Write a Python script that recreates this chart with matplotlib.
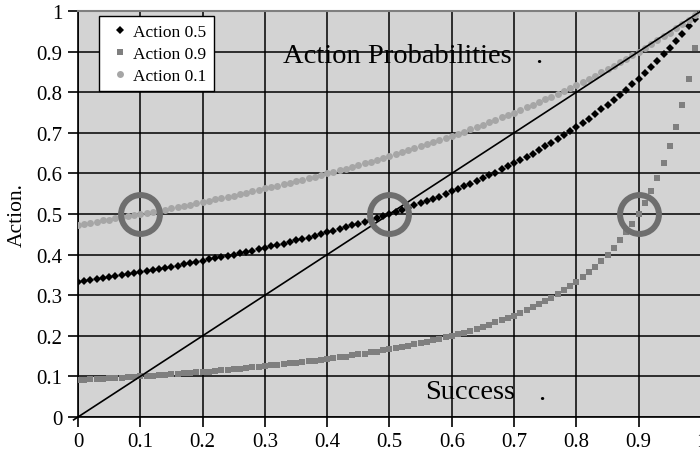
import numpy as np
import matplotlib
matplotlib.use("Agg")
import matplotlib.pyplot as plt

plt.rcParams["font.family"] = ["Liberation Serif", "DejaVu Serif"]

# success rate sampled every 0.01
success = np.linspace(0, 1, 101)

action_05 = [
    0.333, 0.336, 0.338, 0.340, 0.342, 0.345, 0.347, 0.350, 0.352, 0.355,
    0.357, 0.360, 0.362, 0.365, 0.368, 0.370, 0.373, 0.376, 0.379, 0.382,
    0.385, 0.388, 0.391, 0.394, 0.397, 0.400, 0.403, 0.407, 0.410, 0.413,
    0.417, 0.420, 0.424, 0.427, 0.431, 0.435, 0.439, 0.442, 0.446, 0.450,
    0.455, 0.459, 0.463, 0.467, 0.472, 0.476, 0.481, 0.485, 0.490, 0.495,
    0.500, 0.505, 0.510, 0.515, 0.521, 0.526, 0.532, 0.538, 0.543, 0.549,
    0.556, 0.562, 0.568, 0.575, 0.581, 0.588, 0.595, 0.602, 0.610, 0.617,
    0.625, 0.633, 0.641, 0.649, 0.658, 0.667, 0.676, 0.685, 0.694, 0.704,
    0.714, 0.725, 0.735, 0.746, 0.758, 0.769, 0.781, 0.794, 0.806, 0.820,
    0.833, 0.847, 0.862, 0.877, 0.893, 0.909, 0.926, 0.943, 0.962, 0.980,
    1.000,
]

action_09 = [
    0.091, 0.092, 0.093, 0.093, 0.094, 0.095, 0.096, 0.097, 0.098, 0.099,
    0.100, 0.101, 0.102, 0.103, 0.104, 0.105, 0.106, 0.108, 0.109, 0.110,
    0.111, 0.112, 0.114, 0.115, 0.116, 0.118, 0.119, 0.120, 0.122, 0.123,
    0.125, 0.127, 0.128, 0.130, 0.132, 0.133, 0.135, 0.137, 0.139, 0.141,
    0.143, 0.145, 0.147, 0.149, 0.152, 0.154, 0.156, 0.159, 0.161, 0.164,
    0.167, 0.169, 0.172, 0.175, 0.179, 0.182, 0.185, 0.189, 0.192, 0.196,
    0.200, 0.204, 0.208, 0.213, 0.217, 0.222, 0.227, 0.233, 0.238, 0.244,
    0.250, 0.256, 0.263, 0.270, 0.278, 0.286, 0.294, 0.303, 0.313, 0.323,
    0.333, 0.345, 0.357, 0.370, 0.385, 0.400, 0.417, 0.435, 0.455, 0.476,
    0.500, 0.526, 0.556, 0.588, 0.625, 0.667, 0.714, 0.769, 0.833, 0.909,
    1.000,
]

action_01 = [
    0.474, 0.476, 0.479, 0.481, 0.484, 0.486, 0.489, 0.492, 0.495, 0.497,
    0.500, 0.503, 0.506, 0.508, 0.511, 0.514, 0.517, 0.520, 0.523, 0.526,
    0.529, 0.533, 0.536, 0.539, 0.542, 0.545, 0.549, 0.552, 0.556, 0.559,
    0.563, 0.566, 0.570, 0.573, 0.577, 0.581, 0.584, 0.588, 0.592, 0.596,
    0.600, 0.604, 0.608, 0.612, 0.616, 0.621, 0.625, 0.629, 0.634, 0.638,
    0.643, 0.647, 0.652, 0.657, 0.662, 0.667, 0.672, 0.677, 0.682, 0.687,
    0.692, 0.698, 0.703, 0.709, 0.714, 0.720, 0.726, 0.732, 0.738, 0.744,
    0.750, 0.756, 0.763, 0.769, 0.776, 0.783, 0.789, 0.796, 0.804, 0.811,
    0.818, 0.826, 0.833, 0.841, 0.849, 0.857, 0.865, 0.874, 0.882, 0.891,
    0.900, 0.909, 0.918, 0.928, 0.938, 0.947, 0.957, 0.968, 0.978, 0.989,
    1.000,
]

# points where each curve crosses 0.5
marked_x = [0.1, 0.5, 0.9]
marked_y = [0.5, 0.5, 0.5]

ticks = np.round(np.arange(0, 1.01, 0.1), 1)
tick_labels = ["0", "0.1", "0.2", "0.3", "0.4", "0.5", "0.6", "0.7", "0.8", "0.9", "1"]

fig = plt.figure(figsize=(7, 4.52), dpi=100)
ax = fig.add_axes([78 / 700, 34 / 452, 623 / 700, 406 / 452])
ax.set_facecolor("#d3d3d3")

ax.plot(success, action_05, "D", color="black", ms=4.0, mew=0, label="Action 0.5", zorder=3)
ax.plot(success, action_09, "s", color="#7f7f7f", ms=4.6, mew=0, label="Action 0.9", zorder=3)
ax.plot(success, action_01, "o", color="#a6a6a6", ms=5.0, mew=0, label="Action 0.1", zorder=3)

# diagonal reference line, running slightly past the origin
ax.plot([-0.007, 1], [-0.007, 1], color="black", lw=1.2, zorder=4, clip_on=False)
ax.plot(marked_x, marked_y, "o", ms=28, mfc="none", mec="#6e6e6e", mew=4.3, zorder=5)

ax.set_xlim(0, 1)
ax.set_ylim(0, 1)
ax.set_xticks(ticks)
ax.set_yticks(ticks)
ax.set_xticklabels(tick_labels, fontsize=15)
ax.set_yticklabels(tick_labels, fontsize=15)
ax.tick_params(direction="out", length=7, width=1.2, color="black", pad=4)
ax.grid(True, color="black", lw=1.1, zorder=1)
ax.set_axisbelow(True)

ax.spines["right"].set_visible(False)
ax.spines["top"].set_color("#7f7f7f")
ax.spines["top"].set_linewidth(1.5)
ax.spines["left"].set_linewidth(1.2)
ax.spines["bottom"].set_linewidth(1.2)

ax.set_ylabel("Action.", fontsize=15.5, labelpad=7)

ax.text(0.513, 0.874, "Action Probabilities", fontsize=20.5, ha="center", va="baseline", zorder=6)
ax.text(0.740, 0.874, ".", fontsize=20.5, ha="center", va="baseline", zorder=6)
ax.text(0.630, 0.047, "Success", fontsize=20.5, ha="center", va="baseline", zorder=6)
ax.text(0.745, 0.045, ".", fontsize=20.5, ha="center", va="baseline", zorder=6)

leg = ax.legend(loc="upper left", bbox_to_anchor=(0.034, 0.988), fontsize=12.5,
                frameon=True, fancybox=False, handlelength=1.5, handletextpad=0.0,
                borderpad=0.45, labelspacing=0.33, borderaxespad=0)
leg.get_frame().set_edgecolor("black")
leg.get_frame().set_linewidth(1.0)
leg.get_frame().set_facecolor("white")
leg.get_frame().set_alpha(1)

fig.savefig("out.png", dpi=100)
